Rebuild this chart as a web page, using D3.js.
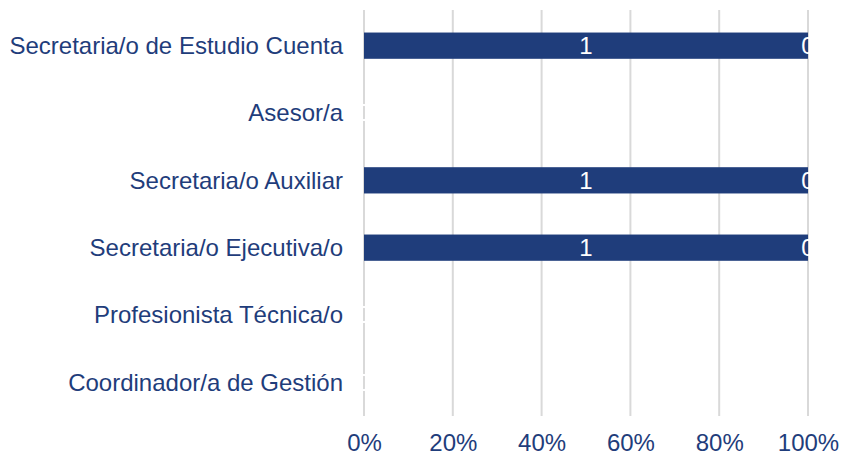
<!DOCTYPE html>
<html>
<head>
<meta charset="utf-8">
<script src="https://cdn.jsdelivr.net/npm/d3@7.9.0/dist/d3.min.js"></script>
<style>
  body { margin: 0; background: #fff; }
  svg text { font-family: "Liberation Sans", Arial, sans-serif; }
</style>
</head>
<body>
<svg id="chart" width="841" height="456"></svg>
<script>
// categories top to bottom
const categories = [
  'Secretaria/o de Estudio Cuenta',
  'Asesor/a',
  'Secretaria/o Auxiliar',
  'Secretaria/o Ejecutiva/o',
  'Profesionista Técnica/o',
  'Coordinador/a de Gestión'
];
const seriesA = [1, 0, 1, 1, 0, 0]; // dark blue
const seriesB = [0, 0, 0, 0, 0, 0]; // second series (all zero)
const xTicks = [0, 0.2, 0.4, 0.6, 0.8, 1];

const blue = '#1f3d7b';
const textColor = '#1f3d7b';

const margin = { top: 12, right: 33, bottom: 40, left: 364 };
const width = 841, height = 456;

const svg = d3.select('#chart');

const x = d3.scaleLinear().domain([0, 1]).range([margin.left, width - margin.right]);
const y = d3.scaleBand().domain(categories).range([margin.top, height - margin.bottom]).paddingInner(0.61).paddingOuter(0.305);

// gridlines
svg.append('g')
  .selectAll('line')
  .data(xTicks)
  .join('line')
  .attr('x1', d => x(d)).attr('x2', d => x(d))
  .attr('y1', margin.top - 2).attr('y2', height - margin.bottom)
  .attr('stroke', '#d9d9d9')
  .attr('stroke-width', 2);

// stacked percentages
const rows = categories.map((c, i) => {
  const total = seriesA[i] + seriesB[i];
  const pa = total ? seriesA[i] / total : 0;
  const pb = total ? seriesB[i] / total : 0;
  return { cat: c, a: seriesA[i], b: seriesB[i], pa, pb };
});

svg.append('g')
  .selectAll('rect')
  .data(rows)
  .join('rect')
  .attr('x', x(0))
  .attr('y', d => y(d.cat))
  .attr('width', d => x(d.pa) - x(0))
  .attr('height', y.bandwidth())
  .attr('fill', blue);

// data labels (white, so zero labels mostly vanish on white)
const labels = svg.append('g').attr('fill', '#fff').attr('font-size', 24).attr('text-anchor', 'middle');
labels.selectAll('text.a')
  .data(rows)
  .join('text')
  .attr('class', 'a')
  .attr('x', d => (x(0) + x(d.pa)) / 2)
  .attr('y', d => y(d.cat) + y.bandwidth() / 2)
  .attr('dy', '0.35em')
  .text(d => d.a);
labels.selectAll('text.b')
  .data(rows)
  .join('text')
  .attr('class', 'b')
  .attr('x', d => (x(d.pa) + x(d.pa + d.pb)) / 2)
  .attr('y', d => y(d.cat) + y.bandwidth() / 2)
  .attr('dy', '0.35em')
  .text(d => d.b);

// y axis labels
svg.append('g')
  .selectAll('text')
  .data(categories)
  .join('text')
  .attr('x', margin.left - 21)
  .attr('y', d => y(d) + y.bandwidth() / 2)
  .attr('dy', '0.35em')
  .attr('text-anchor', 'end')
  .attr('font-size', 24)
  .attr('fill', textColor)
  .text(d => d);

// x axis labels
const xAxis = d3.axisBottom(x).tickValues(xTicks).tickFormat(d3.format('.0%')).tickSize(0).tickPadding(0);
const gx = svg.append('g')
  .attr('transform', `translate(0, ${height - 13})`)
  .call(xAxis);
gx.select('.domain').remove();
gx.selectAll('text')
  .attr('font-size', 24)
  .attr('fill', textColor)
  .attr('dy', '0.35em');
</script>
</body>
</html>
